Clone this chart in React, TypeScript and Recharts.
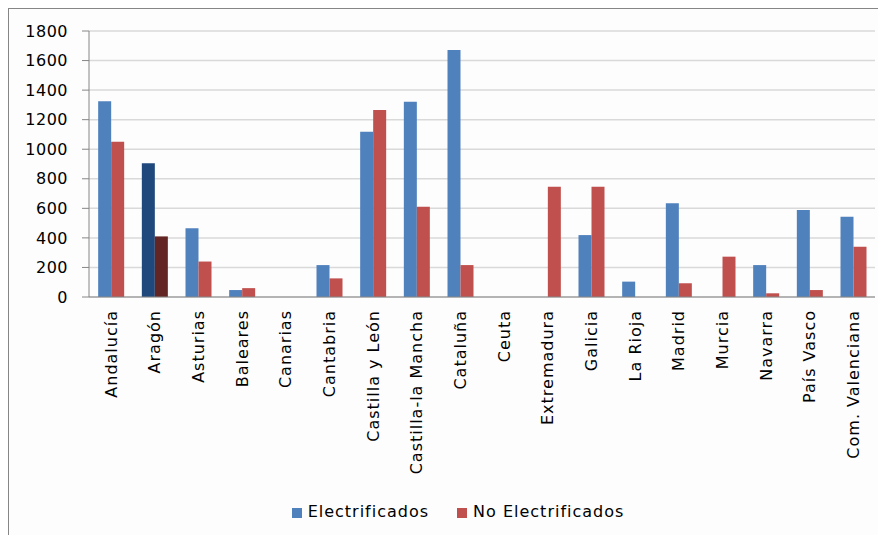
import { BarChart, Bar, XAxis, YAxis, CartesianGrid, Legend, Cell } from "recharts";

const regions = [
  "Andalucía", "Aragón", "Asturias", "Baleares", "Canarias", "Cantabria",
  "Castilla y León", "Castilla-la Mancha", "Cataluña", "Ceuta", "Extremadura",
  "Galicia", "La Rioja", "Madrid", "Murcia", "Navarra", "País Vasco", "Com. Valenciana",
];
const electrificados = [1325, 905, 465, 47, 0, 216, 1118, 1321, 1671, 0, 0, 419, 104, 634, 0, 216, 589, 543];
const noElectrificados = [1050, 410, 240, 60, 0, 126, 1265, 611, 216, 0, 746, 746, 0, 93, 273, 25, 47, 340];
const yTicks = [0, 200, 400, 600, 800, 1000, 1200, 1400, 1600, 1800];
const highlighted = "Aragón";
const boundaries = Array.from({ length: regions.length + 1 }, (_, i) => i);

const data = regions.map((r, i) => ({
  region: r,
  Electrificados: electrificados[i],
  "No Electrificados": noElectrificados[i],
}));

const font = "'DejaVu Sans', sans-serif";

const XTick = ({ x, y, payload }: any) => (
  <g transform={`translate(${x},${y})`}>
    <text
      x={0}
      y={0}
      dy="0.36em"
      transform="rotate(-90)"
      textAnchor="end"
      fill="#000"
      fontSize={16}
      letterSpacing={1}
      fontFamily={font}
    >
      {payload.value}
    </text>
  </g>
);

export default function App() {
  return (
    <div
      style={{
        width: 877,
        height: 526,
        borderLeft: "1px solid #868686",
        borderTop: "1px solid #868686",
        background: "#fdfdfd",
      }}
    >
      <BarChart
        width={877}
        height={526}
        data={data}
        margin={{ top: 22, right: 11, left: 0, bottom: 0 }}
        barCategoryGap="21%"
        barGap={0}
      >
        <CartesianGrid vertical={false} stroke="#d9d9d9" strokeWidth={1.5} />
        <XAxis
          xAxisId="b"
          type="number"
          domain={[0, regions.length]}
          ticks={boundaries}
          height={0}
          tick={false}
          axisLine={false}
          tickLine={{ stroke: "#868686" }}
          tickSize={5}
        />
        <XAxis
          dataKey="region"
          interval={0}
          height={238}
          tick={<XTick />}
          tickLine={false}
          tickSize={5}
          tickMargin={8}
          axisLine={{ stroke: "#868686" }}
        />
        <YAxis
          width={80}
          domain={[0, 1800]}
          ticks={yTicks}
          tickSize={7}
          tickMargin={14}
          axisLine={{ stroke: "#868686" }}
          tickLine={{ stroke: "#868686" }}
          tick={{ fill: "#000", fontSize: 16, fontFamily: font, letterSpacing: 0.5 }}
        />
        <Legend
          verticalAlign="middle"
          align="center"
          iconType="square"
          iconSize={10}
          wrapperStyle={{ top: 493, left: 21, fontFamily: font, fontSize: 16, letterSpacing: 1 }}
          formatter={(v: string, _e: any, i: number) => (
            <span style={{ color: "#000", marginLeft: 2, marginRight: i === 0 ? 18 : 0 }}>{v}</span>
          )}
        />
        <Bar dataKey="Electrificados" fill="#4F81BD" isAnimationActive={false}>
          {data.map((d) => (
            <Cell key={d.region} fill={d.region === highlighted ? "#1F497D" : "#4F81BD"} />
          ))}
        </Bar>
        <Bar dataKey="No Electrificados" fill="#C0504D" isAnimationActive={false}>
          {data.map((d) => (
            <Cell key={d.region} fill={d.region === highlighted ? "#632523" : "#C0504D"} />
          ))}
        </Bar>
      </BarChart>
    </div>
  );
}
